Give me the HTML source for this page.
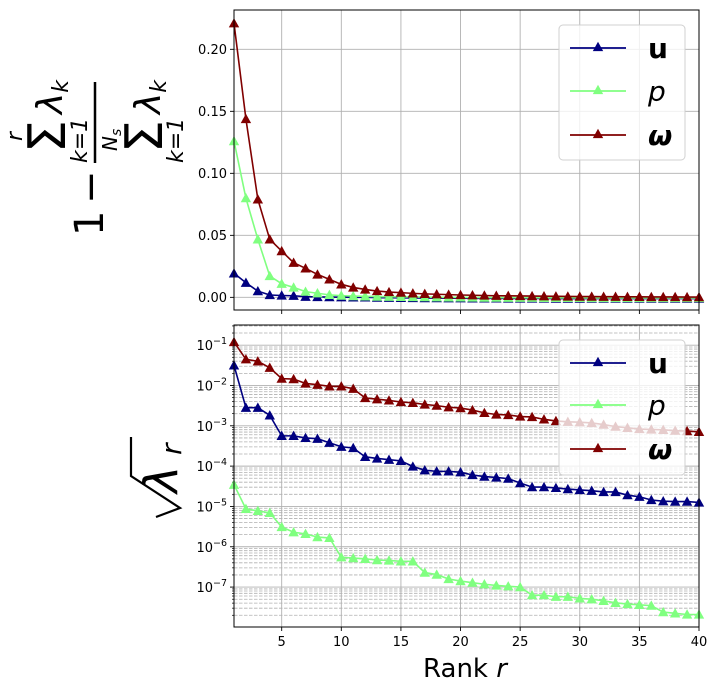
<!DOCTYPE html>
<html><head><meta charset="utf-8"><style>
html,body{margin:0;padding:0;background:#fff;}
svg{display:block;font-family:"DejaVu Sans","Liberation Sans",sans-serif;}
</style></head><body>
<svg id="chart" width="717" height="693" viewBox="0 0 717 693" xmlns="http://www.w3.org/2000/svg">
<g id="top-ylabel" fill="#000">
  <line x1="95" y1="82" x2="95" y2="163" stroke="#000" stroke-width="2.5"/>
  <text x="103" y="236" font-size="40" transform="rotate(-90 103 236)">1</text>
  <text x="104" y="204" font-size="40" transform="rotate(-90 104 204)">−</text>
  <text x="22" y="141" font-size="22" font-style="italic" transform="rotate(-90 22 141)">r</text>
  <text x="65" y="153" font-size="52" transform="rotate(-90 65 153)">Σ</text>
  <text x="87" y="163" font-size="22" font-style="italic" transform="rotate(-90 87 163)">k=1</text>
  <text x="62" y="114" font-size="36" font-style="italic" transform="rotate(-90 62 114)">λ<tspan font-size="22" dy="6">k</tspan></text>
  <text x="117" y="151" font-size="20" font-style="italic" transform="rotate(-90 117 151)">N<tspan font-size="14" dy="4">s</tspan></text>
  <text x="162" y="153" font-size="52" transform="rotate(-90 162 153)">Σ</text>
  <text x="183" y="163" font-size="22" font-style="italic" transform="rotate(-90 183 163)">k=1</text>
  <text x="160" y="114" font-size="36" font-style="italic" transform="rotate(-90 160 114)">λ<tspan font-size="22" dy="6">k</tspan></text>
</g>
<g id="bot-ylabel">
  <path d="M131,437 L131,476 L180,508 L156,517" fill="none" stroke="#000" stroke-width="2.2"/>
  <text x="177" y="493" font-size="46" font-style="italic" transform="rotate(-90 177 493)">λ</text>
  <text x="181" y="455" font-size="28" font-style="italic" transform="rotate(-90 181 455)">r</text>
</g>
<text x="465" y="677" font-size="26" text-anchor="middle">Rank <tspan font-style="italic">r</tspan></text>
</svg>
<script>
const ranks = Array.from({length:40},(_,i)=>i+1);
const topU = [0.0194,0.0118,0.005,0.0019,0.0015,0.0013,0.0005,0.0003,0.0002,0.0001,0,0,-0.0002,-0.0003,-0.0004,-0.0005,-0.0006,-0.0006,-0.0007,-0.0007,-0.0008,-0.0008,-0.0008,-0.0009,-0.0009,-0.0009,-0.0009,-0.001,-0.001,-0.001,-0.001,-0.001,-0.001,-0.001,-0.001,-0.001,-0.001,-0.001,-0.001,-0.001];
const topP = [0.126,0.080,0.0468,0.0172,0.011,0.008,0.0046,0.0033,0.002,0.0014,0.001,0.0008,0.0006,0.0005,0.0004,0.0003,0.0002,0.0001,0,0,-0.0001,-0.0002,-0.0002,-0.0003,-0.0003,-0.0003,-0.0004,-0.0004,-0.0004,-0.0004,-0.0005,-0.0005,-0.0005,-0.0005,-0.0005,-0.0005,-0.0005,-0.0005,-0.0005,-0.0005];
const topW = [0.221,0.1438,0.079,0.0468,0.0373,0.0279,0.0234,0.0185,0.0145,0.0105,0.008,0.0064,0.0051,0.0043,0.0038,0.0032,0.0028,0.0025,0.0022,0.0019,0.0017,0.0015,0.0013,0.0012,0.0011,0.001,0.0009,0.0008,0.0007,0.0006,0.0006,0.0005,0.0005,0.0004,0.0004,0.0003,0.0003,0.0003,0.0002,0.0002];
const logW = [-0.92,-1.35,-1.40,-1.56,-1.83,-1.84,-1.95,-1.98,-2.02,-2.02,-2.08,-2.31,-2.34,-2.37,-2.41,-2.43,-2.47,-2.50,-2.54,-2.56,-2.61,-2.68,-2.72,-2.73,-2.77,-2.78,-2.84,-2.88,-2.90,-2.91,-2.93,-2.97,-3.02,-3.05,-3.08,-3.09,-3.10,-3.12,-3.13,-3.15];
const logU = [-1.50,-2.55,-2.55,-2.74,-3.25,-3.25,-3.30,-3.32,-3.42,-3.52,-3.55,-3.77,-3.81,-3.84,-3.87,-4.01,-4.10,-4.13,-4.13,-4.15,-4.22,-4.26,-4.28,-4.31,-4.42,-4.52,-4.52,-4.54,-4.57,-4.59,-4.61,-4.64,-4.64,-4.72,-4.76,-4.84,-4.87,-4.88,-4.88,-4.90];
const logP = [-4.46,-5.06,-5.11,-5.16,-5.51,-5.64,-5.68,-5.76,-5.78,-6.26,-6.28,-6.30,-6.33,-6.34,-6.36,-6.36,-6.64,-6.69,-6.80,-6.85,-6.89,-6.93,-6.96,-6.98,-7.00,-7.20,-7.20,-7.24,-7.24,-7.28,-7.30,-7.34,-7.39,-7.42,-7.44,-7.46,-7.62,-7.65,-7.68,-7.68];
const xTicks = [5,10,15,20,25,30,35,40];
const topYTicks = [0,0.05,0.10,0.15,0.20];
const topYLabels = ["0.00","0.05","0.10","0.15","0.20"];
const botYTicks = [-1,-2,-3,-4,-5,-6,-7];

const NS="http://www.w3.org/2000/svg";
const svg=document.getElementById('chart');
function mk(tag,attrs,parent){const e=document.createElementNS(NS,tag);for(const k in attrs)e.setAttribute(k,attrs[k]);(parent||svg).appendChild(e);return e;}
const X0=234,X1=699;
const sx=v=>X0+(v-1)*(X1-X0)/39;
const T0=10,T1=310, tMin=-0.0102, tMax=0.2317;
const syT=v=>T1-(v-tMin)/(tMax-tMin)*(T1-T0);
const B0=325,B1=627, bMin=-7.99, bMax=-0.5;
const syB=v=>B1-(v-bMin)/(bMax-bMin)*(B1-B0);
const colors={u:'#000080',p:'#80ff80',w:'#800000'};

function tri(g,x,y,c){const s=5.2;const t=mk('polygon',{points:`${x},${y-s} ${x-s},${y+s*0.8} ${x+s},${y+s*0.8}`,fill:c},g);return t;}

function series(name,vals,sy,c){
  const g=mk('g',{});
  
  
  const pts=vals.map((v,i)=>`${sx(ranks[i])},${sy(v)}`).join(' ');
  mk('polyline',{points:pts,fill:'none',stroke:c,'stroke-width':1.6},g);
  vals.forEach((v,i)=>{const t=tri(g,sx(ranks[i]),sy(v),c);
    
    });
}

const gT=mk('g',{});


xTicks.forEach(t=>{ if(t<40) mk('line',{x1:sx(t),x2:sx(t),y1:T0,y2:T1,stroke:'#b0b0b0','stroke-width':0.9},gT);
  mk('line',{x1:sx(t),x2:sx(t),y1:T1,y2:T1+4,stroke:'#000','stroke-width':0.9},gT);});
topYTicks.forEach((t,i)=>{const y=syT(t);
  mk('line',{x1:X0,x2:X1,y1:y,y2:y,stroke:'#b0b0b0','stroke-width':0.9},gT);
  mk('line',{x1:X0-4,x2:X0,y1:y,y2:y,stroke:'#000','stroke-width':0.9},gT);
  const tx=mk('text',{x:X0-7,y:y+4.5,'font-size':13,'text-anchor':'end'},gT);tx.textContent=topYLabels[i];
  
  });
series('top-u-line',topU,syT,colors.u);
series('top-p-line',topP,syT,colors.p);
series('top-omega-line',topW,syT,colors.w);
mk('rect',{x:X0,y:T0,width:X1-X0,height:T1-T0,fill:'none',stroke:'#000','stroke-width':1});

const gB=mk('g',{});


for(let d=-8;d<=-1;d++){for(let k=2;k<=9;k++){const lv=d+Math.log10(k);if(lv<bMin||lv>bMax)continue;const y=syB(lv);
  mk('line',{x1:X0,x2:X1,y1:y,y2:y,stroke:'#b0b0b0','stroke-width':0.8,'stroke-dasharray':'3.5,1.5'},gB);
  mk('line',{x1:X0-2,x2:X0,y1:y,y2:y,stroke:'#000','stroke-width':0.7},gB);}}
xTicks.forEach(t=>{ if(t<40) mk('line',{x1:sx(t),x2:sx(t),y1:B0,y2:B1,stroke:'#b0b0b0','stroke-width':0.9},gB);
  mk('line',{x1:sx(t),x2:sx(t),y1:B1,y2:B1+4,stroke:'#000','stroke-width':0.9},gB);
  const tx=mk('text',{x:sx(t),y:B1+19,'font-size':13,'text-anchor':'middle'},gB);tx.textContent=t;
  
  });
botYTicks.forEach(t=>{const y=syB(t);
  mk('line',{x1:X0,x2:X1,y1:y,y2:y,stroke:'#b0b0b0','stroke-width':0.9},gB);
  mk('line',{x1:X0-4,x2:X0,y1:y,y2:y,stroke:'#000','stroke-width':0.9},gB);
  const tx=mk('text',{x:X0-7,y:y+5,'font-size':13,'text-anchor':'end'},gB);
  tx.innerHTML='10<tspan font-size="9.5" dy="-6">−'+(-t)+'</tspan>';
  
  });
series('bottom-u-line',logU,syB,colors.u);
series('bottom-p-line',logP,syB,colors.p);
series('bottom-omega-line',logW,syB,colors.w);
mk('rect',{x:X0,y:B0,width:X1-X0,height:B1-B0,fill:'none',stroke:'#000','stroke-width':1});

function legend(name,x,y,ys){
  const g=mk('g',{});
  
  
  mk('rect',{x:x,y:y,width:126,height:135,rx:4,fill:'rgba(255,255,255,0.8)',stroke:'#d0d0d0','stroke-width':1},g);
  const items=[['u',colors.u,'bold','normal'],['p',colors.p,'normal','italic'],['ω',colors.w,'bold','italic']];
  items.forEach((it,i)=>{const yy=ys[i];
    const e=mk('g',{},g);
    
    
    mk('line',{x1:x+11,x2:x+67,y1:yy,y2:yy,stroke:it[1],'stroke-width':1.8},e);
    tri(e,x+39,yy-1,it[1]);
    const t=mk('text',{x:x+89,y:yy+10,'font-size':28,'font-weight':it[2],'font-style':it[3]},e);t.textContent=it[0];});
}
legend('top-legend',559,25,[48,91,135]);
legend('bottom-legend',559,340,[363,405,449]);
</script>
</body></html>
